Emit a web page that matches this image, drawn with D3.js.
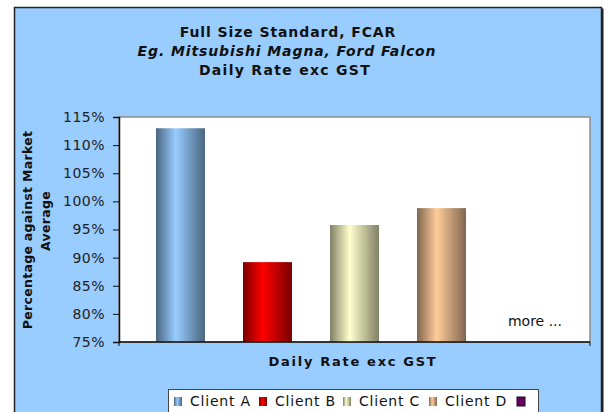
<!DOCTYPE html>
<html>
<head>
<meta charset="utf-8">
<script src="https://cdn.jsdelivr.net/npm/d3@7"></script>
<style>
  body { margin: 0; background: #fff; }
  svg { display: block; font-family: "DejaVu Sans", Verdana, sans-serif; }
</style>
</head>
<body>
<div id="chart"></div>
<script>
// data
var clients = ["Client A", "Client B", "Client C", "Client D", "Client E"];
var legendLabels = ["Client A", "Client B", "Client C", "Client D", ""];
var values = [113.0, 89.2, 95.8, 98.8, null];
var yTicks = [75, 80, 85, 90, 95, 100, 105, 110, 115];
var baseColors = ["#99CCFF", "#FF0000", "#FFFFCC", "#FFCC99", "#660066"];
var edgeColors = ["#4A6680", "#7A0000", "#808066", "#806650", "#660066"];

var w = 608, h = 412;
var plot = {left: 119, right: 590, top: 117, bottom: 342};

var svg = d3.select("#chart").append("svg")
  .attr("width", w)
  .attr("height", h);

var defs = svg.append("defs");
clients.forEach(function(c, i) {
  var g = defs.append("linearGradient")
    .attr("id", "grad" + i)
    .attr("x1", "0%").attr("x2", "100%")
    .attr("y1", "0%").attr("y2", "0%");
  g.append("stop").attr("offset", "0%").attr("stop-color", edgeColors[i]);
  g.append("stop").attr("offset", "40%").attr("stop-color", baseColors[i]);
  g.append("stop").attr("offset", "100%").attr("stop-color", edgeColors[i]);
});

// chart area
svg.append("rect")
  .attr("x", 15.5).attr("y", 8.5)
  .attr("width", 588).attr("height", 420)
  .attr("fill", "#222");
svg.append("rect")
  .attr("x", 14.5).attr("y", 7.5)
  .attr("width", 587).attr("height", 420)
  .attr("fill", "#99CCFF")
  .attr("stroke", "#222")
  .attr("stroke-width", 1.5);

// title
var title = svg.append("text")
  .attr("text-anchor", "middle")
  .attr("font-size", "14px")
  .attr("font-weight", "bold")
  .attr("letter-spacing", "0.9px")
  .attr("fill", "#111");
title.append("tspan").attr("x", 288).attr("y", 37).text("Full Size Standard, FCAR");
title.append("tspan").attr("x", 287).attr("y", 56).attr("font-style", "italic").text("Eg. Mitsubishi Magna, Ford Falcon");
title.append("tspan").attr("x", 285).attr("y", 75).attr("letter-spacing", "1.3px").text("Daily Rate exc GST");

// plot area
svg.append("rect")
  .attr("x", plot.left).attr("y", plot.top)
  .attr("width", plot.right - plot.left).attr("height", plot.bottom - plot.top)
  .attr("fill", "#fff")
  .attr("stroke", "#8c8c8c")
  .attr("stroke-width", 1.5);

var y = d3.scaleLinear().domain([75, 115]).range([plot.bottom, plot.top]);
var x = d3.scaleBand().domain(clients).range([plot.left, plot.right])
  .paddingInner(0.437).paddingOuter(0.425);

svg.selectAll("rect.bar")
  .data(values.map(function(v, i) { return {v: v, i: i}; }).filter(function(d) { return d.v != null; }))
  .enter()
  .append("rect")
  .attr("class", "bar")
  .attr("x", function(d) { return x(clients[d.i]); })
  .attr("y", function(d) { return y(d.v); })
  .attr("width", x.bandwidth())
  .attr("height", function(d) { return y(75) - y(d.v); })
  .attr("fill", function(d) { return "url(#grad" + d.i + ")"; });

// axes
var yAxis = svg.append("g")
  .attr("transform", "translate(" + plot.left + ",0)")
  .call(d3.axisLeft(y).tickValues(yTicks).tickSize(6).tickPadding(8)
    .tickFormat(function(d) { return d + "%"; }));
yAxis.select(".domain").attr("stroke", "#111").attr("stroke-width", 1.5);
yAxis.selectAll(".tick line").attr("stroke", "#111");
yAxis.selectAll(".tick text")
  .attr("font-size", "14px")
  .attr("font-family", "DejaVu Sans, sans-serif")
  .attr("fill", "#222")
  .attr("letter-spacing", "0.5px");

var xAxis = svg.append("g")
  .attr("transform", "translate(0," + plot.bottom + ")");
xAxis.append("line")
  .attr("x1", plot.left).attr("x2", plot.right)
  .attr("stroke", "#111").attr("stroke-width", 1.5);
xAxis.selectAll("line.tk")
  .data([plot.left, plot.right])
  .enter().append("line")
  .attr("class", "tk")
  .attr("x1", function(d) { return d; }).attr("x2", function(d) { return d; })
  .attr("y1", 0).attr("y2", 4)
  .attr("stroke", "#111");

svg.append("text")
  .attr("x", 535).attr("y", 326)
  .attr("text-anchor", "middle")
  .attr("font-size", "14px")
  .attr("fill", "#111")
  .text("more ...");

// axis titles
svg.append("text")
  .attr("x", 353).attr("y", 366)
  .attr("text-anchor", "middle")
  .attr("font-size", "13px")
  .attr("font-weight", "bold")
  .attr("letter-spacing", "1.7px")
  .attr("fill", "#111")
  .text("Daily Rate exc GST");

var yTitle = svg.append("text")
  .attr("transform", "rotate(-90)")
  .attr("text-anchor", "middle")
  .attr("font-size", "12.5px")
  .attr("font-weight", "bold")
  .attr("letter-spacing", "0.3px")
  .attr("fill", "#111");
yTitle.append("tspan").attr("x", -230).attr("y", 32).text("Percentage against Market");
yTitle.append("tspan").attr("x", -221).attr("y", 50).text("Average");

// legend
var legend = svg.append("g");
legend.append("rect")
  .attr("x", 168.5).attr("y", 389.5)
  .attr("width", 370).attr("height", 40)
  .attr("fill", "#fff")
  .attr("stroke", "#444");

var swatchX = [174, 259, 343, 429, 517];
var item = legend.selectAll("g.item")
  .data(legendLabels)
  .enter().append("g")
  .attr("class", "item")
  .attr("transform", function(d, i) { return "translate(" + swatchX[i] + ",397)"; });
item.append("rect")
  .attr("width", 8).attr("height", 9)
  .attr("fill", function(d, i) { return "url(#grad" + i + ")"; })
  .attr("stroke", function(d, i) { return i === 4 ? "#111" : "none"; });
item.append("text")
  .attr("x", 16).attr("y", 9)
  .attr("font-size", "14px")
  .attr("letter-spacing", "0.8px")
  .attr("fill", "#111")
  .text(function(d) { return d; });
</script>
</body>
</html>
